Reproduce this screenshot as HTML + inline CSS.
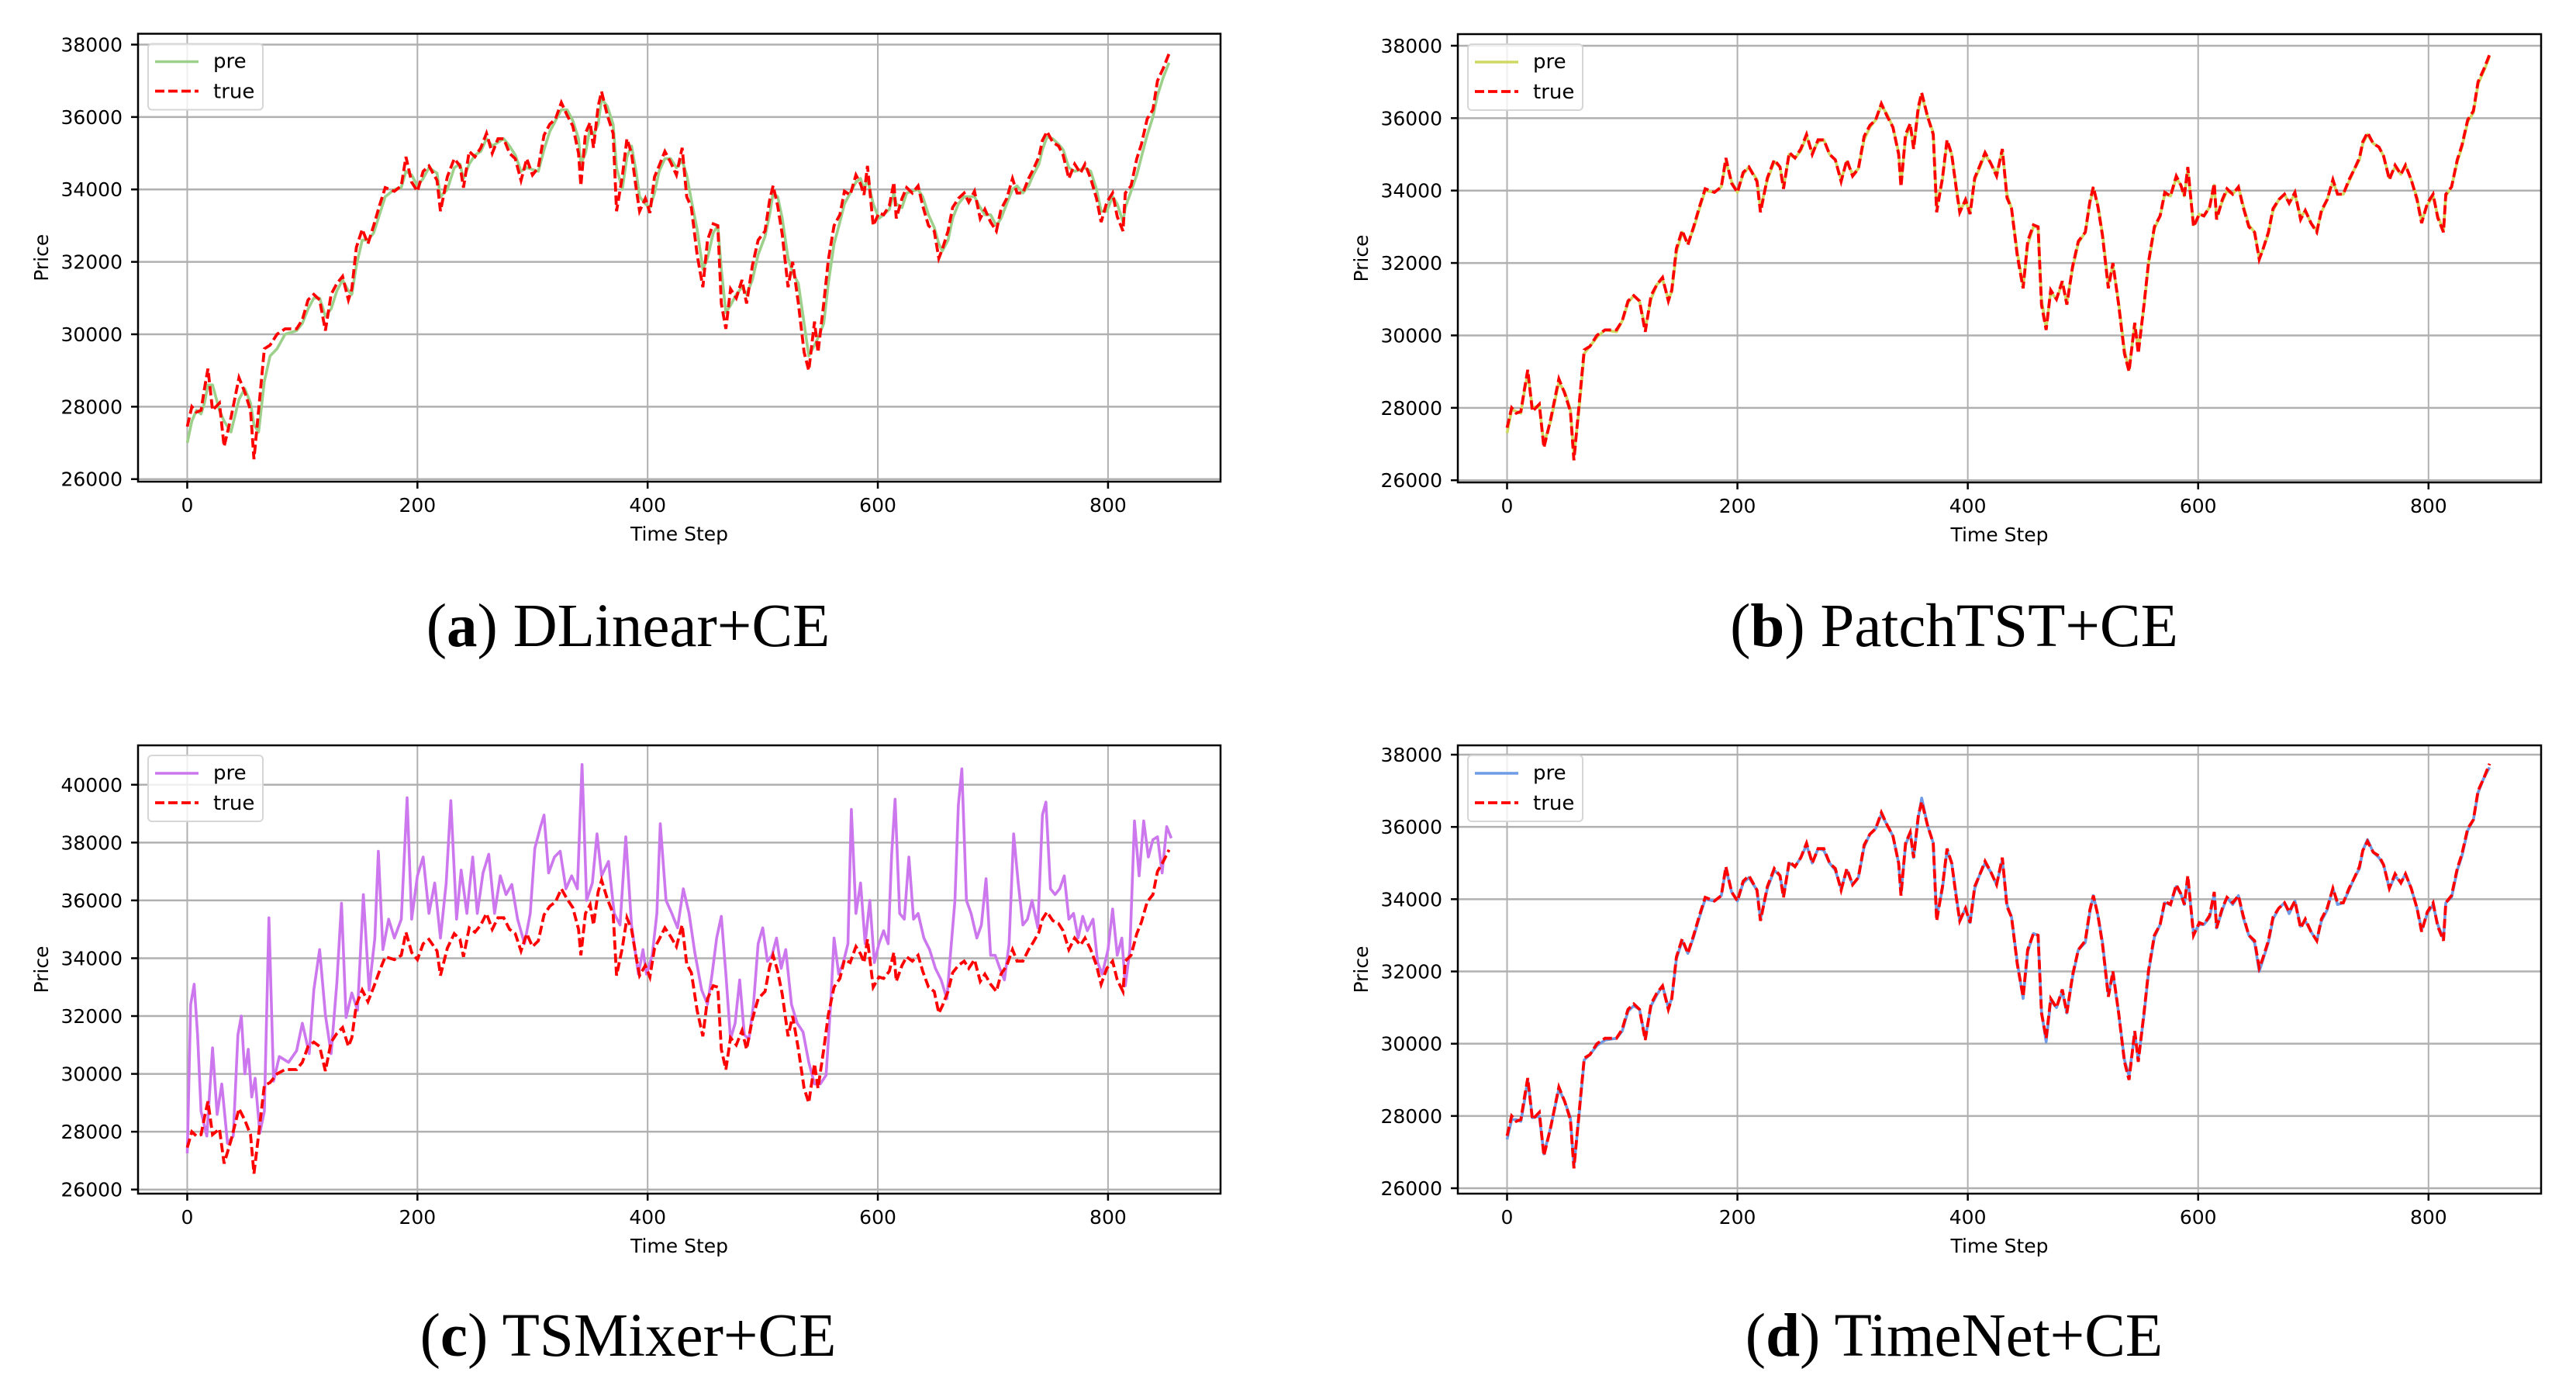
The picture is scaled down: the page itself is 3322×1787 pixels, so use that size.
<!DOCTYPE html>
<html><head><meta charset="utf-8"><style>
html,body{margin:0;padding:0;background:#fff;}
svg{display:block;}
text{font-family:"DejaVu Sans","Liberation Sans",sans-serif;}
.cap{font-family:"Liberation Serif",serif;font-size:79px;}
</style></head><body>
<svg id="fig" width="3322" height="1787" viewBox="0 0 3322 1787" xmlns="http://www.w3.org/2000/svg">
<text class="cap" x="810" y="833" text-anchor="middle">(<tspan font-weight="bold">a</tspan>) DLinear+CE</text>
<text class="cap" x="2520" y="833" text-anchor="middle">(<tspan font-weight="bold">b</tspan>) PatchTST+CE</text>
<text class="cap" x="810" y="1748" text-anchor="middle">(<tspan font-weight="bold">c</tspan>) TSMixer+CE</text>
<text class="cap" x="2520" y="1748" text-anchor="middle">(<tspan font-weight="bold">d</tspan>) TimeNet+CE</text>
</svg>
<script>
const trueT = [0,4,8,12,15,18,22,28,32,38,45,50,55,58,62,67,72,78,85,95,100,105,110,115,120,125,130,135,140,143,147,152,157,162,167,172,180,186,190,195,200,205,210,217,220,226,232,237,240,245,250,255,260,265,270,275,280,285,290,295,300,305,310,315,320,325,330,335,340,342,346,350,353,357,360,365,370,373,378,382,386,390,393,398,402,406,410,415,420,425,430,434,438,443,448,452,457,461,464,468,472,477,482,486,491,496,502,506,509,513,517,522,526,531,536,540,545,548,553,557,562,567,571,576,581,585,588,591,596,601,605,610,614,616,621,625,630,635,639,644,649,653,656,661,665,670,675,679,684,689,693,698,703,707,712,717,721,726,731,735,740,743,747,752,757,761,766,771,776,780,785,790,794,799,804,808,813,815,820,825,829,834,839,843,848,853];
const trueV = [27.45,28.0,27.85,27.9,28.5,29.05,27.9,28.1,26.9,27.7,28.8,28.4,27.9,26.55,27.9,29.6,29.7,30.0,30.15,30.15,30.4,30.95,31.1,30.95,30.1,31.1,31.4,31.6,30.95,31.25,32.4,32.9,32.5,33.0,33.55,34.05,33.95,34.1,34.9,34.2,33.95,34.5,34.65,34.25,33.4,34.35,34.85,34.65,34.05,35.05,34.9,35.15,35.55,35.0,35.4,35.4,35.0,34.85,34.25,34.85,34.4,34.6,35.5,35.8,35.95,36.4,36.05,35.75,35.0,34.1,35.55,35.85,35.15,36.3,36.7,36.05,35.55,33.4,34.35,35.4,35.0,34.05,33.4,33.75,33.35,34.35,34.65,35.05,34.75,34.4,35.15,33.8,33.5,32.2,31.3,32.6,33.05,33.0,30.85,30.15,31.25,31.0,31.5,30.85,31.9,32.6,32.85,33.7,34.1,33.55,32.75,31.3,32.0,30.85,29.5,29.0,30.35,29.5,30.85,32.05,33.0,33.3,33.95,33.85,34.4,34.15,33.85,34.65,33.0,33.35,33.3,33.55,34.2,33.2,33.75,34.05,33.9,34.1,33.55,33.0,32.85,32.1,32.35,32.85,33.5,33.75,33.9,33.65,33.95,33.2,33.45,33.1,32.85,33.45,33.75,34.3,33.9,33.9,34.3,34.55,34.9,35.35,35.6,35.3,35.2,34.95,34.3,34.7,34.45,34.7,34.3,33.75,33.1,33.65,33.9,33.25,32.85,33.9,34.1,34.85,35.25,35.95,36.2,37.0,37.35,37.75];
const preA = [27.0,27.6,27.9,27.8,28.1,28.6,28.6,27.9,27.6,27.3,28.2,28.5,28.1,27.5,27.3,28.7,29.4,29.6,30.0,30.1,30.3,30.7,31.0,31.0,30.5,30.7,31.2,31.5,31.2,31.1,31.9,32.6,32.6,32.8,33.3,33.8,34.0,34.05,34.5,34.4,34.1,34.3,34.6,34.45,33.8,34.0,34.6,34.7,34.3,34.7,34.95,35.05,35.4,35.2,35.3,35.4,35.2,34.95,34.5,34.6,34.55,34.5,35.1,35.6,35.9,36.2,36.2,35.9,35.4,34.7,35.0,35.7,35.5,35.8,36.5,36.3,35.8,34.6,34.0,34.9,35.2,34.5,33.8,33.6,33.5,33.9,34.5,34.85,34.85,34.6,34.8,34.4,33.7,32.9,31.8,32.1,32.8,33.0,31.8,30.6,30.8,31.1,31.3,31.1,31.5,32.2,32.7,33.3,33.9,33.8,33.2,32.1,31.7,31.4,30.3,29.4,29.7,29.9,30.3,31.4,32.5,33.1,33.6,33.9,34.2,34.3,34.0,34.3,33.6,33.2,33.3,33.45,33.9,33.6,33.5,33.9,33.95,34.0,33.8,33.3,32.95,32.5,32.3,32.6,33.2,33.6,33.8,33.8,33.8,33.5,33.3,33.3,33.0,33.2,33.6,34.0,34.1,33.9,34.1,34.4,34.7,35.1,35.45,35.4,35.25,35.1,34.6,34.5,34.55,34.6,34.5,34.0,33.4,33.4,33.8,33.6,33.1,33.5,33.95,34.4,34.9,35.5,36.0,36.6,37.1,37.5];
const preB = [27.3,27.95,27.9,27.85,28.45,28.95,28.0,28.05,27.0,27.65,28.7,28.45,27.95,26.7,27.8,29.5,29.7,29.95,30.15,30.1,30.4,30.9,31.1,30.95,30.2,31.0,31.4,31.55,31.0,31.2,32.3,32.85,32.55,32.95,33.5,34.0,33.95,34.1,34.8,34.25,33.95,34.45,34.65,34.3,33.5,34.3,34.8,34.65,34.1,35.0,34.9,35.1,35.5,35.05,35.35,35.4,35.0,34.85,34.3,34.8,34.45,34.6,35.4,35.75,35.95,36.35,36.1,35.75,35.05,34.2,35.45,35.8,35.2,36.2,36.65,36.05,35.6,33.55,34.3,35.35,35.0,34.1,33.45,33.7,33.4,34.3,34.6,35.0,34.75,34.45,35.1,33.9,33.5,32.3,31.35,32.5,33.0,33.0,31.0,30.2,31.2,31.0,31.45,30.9,31.85,32.55,32.85,33.65,34.05,33.6,32.8,31.4,31.95,30.9,29.6,29.05,30.3,29.6,30.8,32.0,32.95,33.3,33.9,33.85,34.35,34.15,33.85,34.6,33.05,33.35,33.3,33.55,34.15,33.25,33.7,34.0,33.9,34.1,33.6,33.05,32.85,32.15,32.35,32.8,33.45,33.75,33.9,33.65,33.9,33.25,33.45,33.1,32.9,33.4,33.75,34.25,33.9,33.9,34.25,34.55,34.85,35.3,35.55,35.3,35.2,34.95,34.35,34.65,34.45,34.7,34.3,33.8,33.15,33.6,33.85,33.3,32.9,33.85,34.1,34.8,35.2,35.9,36.15,36.95,37.3,37.7];
const preD = [27.35,27.9,27.9,27.85,28.4,29.0,27.95,28.0,26.95,27.7,28.75,28.4,27.95,26.6,27.85,29.55,29.7,29.95,30.1,30.15,30.35,30.9,31.05,30.95,30.15,31.05,31.35,31.6,31.0,31.25,32.35,32.85,32.5,32.95,33.5,34.0,33.95,34.1,34.85,34.2,33.95,34.45,34.6,34.25,33.45,34.3,34.8,34.65,34.1,35.0,34.9,35.15,35.5,35.0,35.4,35.35,35.0,34.8,34.3,34.8,34.4,34.6,35.45,35.8,35.95,36.35,36.05,35.75,35.0,34.15,35.5,35.85,35.15,36.25,36.8,36.05,35.55,33.5,34.3,35.35,35.0,34.1,33.4,33.75,33.35,34.3,34.65,35.0,34.75,34.4,35.1,33.85,33.5,32.25,31.25,32.55,33.05,33.0,30.9,30.05,31.2,31.0,31.45,30.85,31.85,32.6,32.8,33.65,34.1,33.55,32.8,31.35,31.95,30.85,29.55,29.1,30.3,29.55,30.8,32.0,32.95,33.3,33.9,33.85,34.35,34.15,33.85,34.6,33.05,33.3,33.3,33.5,34.15,33.2,33.7,34.05,33.85,34.1,33.5,33.0,32.8,32.0,32.3,32.8,33.45,33.75,33.9,33.6,33.95,33.25,33.4,33.1,32.85,33.4,33.7,34.3,33.85,33.9,34.25,34.55,34.85,35.35,35.65,35.3,35.15,34.95,34.3,34.65,34.45,34.7,34.3,33.75,33.15,33.6,33.85,33.3,32.9,33.9,34.05,34.8,35.2,35.9,36.2,36.95,37.35,37.65];
const preCT = [0,3,6,9,12,17,22,26,30,35,40,44,47,50,53,56,59,63,67,71,75,80,88,95,100,106,110,115,120,125,130,134,138,143,148,153,158,163,166,170,175,180,186,191,195,200,205,210,215,220,225,229,234,238,243,248,252,257,262,267,272,277,282,287,293,298,302,307,310,314,319,324,329,334,339,343,347,352,356,360,366,371,376,381,386,392,396,399,404,408,411,416,421,426,431,436,441,447,452,456,460,464,468,472,476,480,484,488,492,496,500,504,508,512,516,520,525,530,535,540,545,550,555,559,562,566,570,574,577,581,585,589,593,597,601,605,609,612,615,619,623,627,631,635,640,645,650,655,660,663,667,670,673,677,681,686,690,694,698,702,706,710,714,718,722,726,730,734,739,743,746,750,754,758,762,766,770,774,778,782,787,791,795,800,804,808,812,815,819,823,827,831,835,839,843,847,851,855];
const preCV = [27.25,32.4,33.1,31.35,28.7,27.85,30.9,28.6,29.65,27.6,27.85,31.35,32.0,30.0,30.85,29.2,29.85,27.95,28.7,35.4,29.75,30.6,30.4,30.8,31.75,30.7,32.9,34.3,32.05,30.7,33.15,35.9,31.95,32.8,32.2,36.2,32.9,34.7,37.7,34.3,35.35,34.7,35.35,39.55,35.35,36.85,37.5,35.55,36.6,34.7,36.6,39.45,35.35,37.05,35.55,37.5,35.55,36.95,37.6,35.55,36.85,36.2,36.55,35.35,34.5,35.55,37.8,38.55,38.95,36.95,37.5,37.7,36.4,36.85,36.4,40.7,36.0,36.6,38.3,36.85,37.35,35.55,35.15,38.2,35.15,33.45,34.3,33.45,34.1,35.55,38.65,36.0,35.55,35.05,36.4,35.55,34.2,32.9,32.4,33.45,34.7,35.45,33.45,31.2,31.75,33.25,31.35,31.2,32.4,34.5,35.05,33.9,34.1,34.7,33.65,34.3,32.4,31.75,31.45,30.4,29.65,29.65,29.95,32.4,34.7,33.45,33.85,34.5,39.15,35.55,36.6,34.5,36.0,33.85,34.5,34.95,34.5,37.6,39.5,35.55,35.35,37.5,35.35,35.55,34.7,34.3,33.65,33.25,32.6,34.1,36.0,39.3,40.55,36.0,35.55,34.7,35.15,36.75,34.1,34.1,33.65,33.25,34.5,38.3,36.6,35.15,35.35,36.0,35.05,38.95,39.4,36.4,36.2,36.4,36.85,35.35,35.55,34.7,35.45,34.95,35.35,33.85,33.45,34.3,35.7,34.1,34.7,33.05,34.3,38.75,36.85,38.75,37.5,38.1,38.2,36.95,38.55,38.15];
const xTicks = [0,200,400,600,800];
const yTicksTop = [26000,28000,30000,32000,34000,36000,38000];
const yTicksC = [26000,28000,30000,32000,34000,36000,38000,40000];

const NS = 'http://www.w3.org/2000/svg';
const svg = document.getElementById('fig');
function mk(tag, attrs, parent) {
  const e = document.createElementNS(NS, tag);
  for (const k in attrs) e.setAttribute(k, attrs[k]);
  (parent || svg).appendChild(e);
  return e;
}
function drawPanel(p) {
  const g = mk('g', {});
  
  
  const xs = v => p.L + (v - p.xmin) / (p.xmax - p.xmin) * (p.R - p.L);
  const ys = v => p.B - (v - p.ymin) / (p.ymax - p.ymin) * (p.B - p.T);
  xTicks.forEach(t => {
    const l = mk('line', {x1: xs(t), x2: xs(t), y1: p.T, y2: p.B, stroke: '#b0b0b0', 'stroke-width': 2}, g);
    
    
  });
  p.yTicks.forEach(t => {
    const l = mk('line', {x1: p.L, x2: p.R, y1: ys(t), y2: ys(t), stroke: '#b0b0b0', 'stroke-width': 2.5}, g);
    
    
  });
  const clipId = 'clip-' + p.name;
  const cp = mk('clipPath', {id: clipId}, g);
  mk('rect', {x: p.L, y: p.T, width: p.R - p.L, height: p.B - p.T}, cp);
  let d = '';
  const n1 = Math.min(p.preT.length, p.preV.length);
  for (let i = 0; i < n1; i++) d += (i ? 'L' : 'M') + xs(p.preT[i]).toFixed(1) + ',' + ys(p.preV[i] * 1000).toFixed(1);
  const pl = mk('path', {d: d, fill: 'none', stroke: p.color, 'stroke-width': 3.6, 'stroke-linejoin': 'round', 'clip-path': 'url(#' + clipId + ')'}, g);
  
  
  d = '';
  const n2 = Math.min(trueT.length, trueV.length);
  for (let i = 0; i < n2; i++) d += (i ? 'L' : 'M') + xs(trueT[i]).toFixed(1) + ',' + ys(trueV[i] * 1000).toFixed(1);
  const tl = mk('path', {d: d, fill: 'none', stroke: '#ff0000', 'stroke-width': 3.8, 'stroke-dasharray': '12,5', 'clip-path': 'url(#' + clipId + ')'}, g);
  
  
  const fr = mk('rect', {x: p.L, y: p.T, width: p.R - p.L, height: p.B - p.T, fill: 'none', stroke: '#000', 'stroke-width': 2.5}, g);
  
  
  xTicks.forEach(t => {
    mk('line', {x1: xs(t), x2: xs(t), y1: p.B, y2: p.B + 9, stroke: '#000', 'stroke-width': 2.5}, g);
    const tx = mk('text', {x: xs(t), y: p.B + 39, 'font-size': 25, 'text-anchor': 'middle'}, g);
    tx.textContent = t;
    
    
  });
  p.yTicks.forEach(t => {
    mk('line', {x1: p.L - 9, x2: p.L, y1: ys(t), y2: ys(t), stroke: '#000', 'stroke-width': 2.5}, g);
    const tx = mk('text', {x: p.L - 20, y: ys(t) + 9, 'font-size': 25, 'text-anchor': 'end'}, g);
    tx.textContent = t;
    
    
  });
  const xl = mk('text', {x: (p.L + p.R) / 2, y: p.B + 76, 'font-size': 25, 'text-anchor': 'middle'}, g);
  xl.textContent = 'Time Step';
  
  
  const cy = (p.T + p.B) / 2;
  const yl = mk('text', {x: p.L - 116, y: cy, 'font-size': 25, 'text-anchor': 'middle', transform: 'rotate(-90 ' + (p.L - 116) + ' ' + cy + ')'}, g);
  yl.textContent = 'Price';
  
  
  const lg = mk('g', {}, g);
  
  
  mk('rect', {x: p.L + 13, y: p.T + 13, width: 148, height: 85, rx: 5, fill: 'rgba(255,255,255,0.8)', stroke: '#d6d6d6', 'stroke-width': 2}, lg);
  mk('line', {x1: p.L + 22, x2: p.L + 78, y1: p.T + 36, y2: p.T + 36, stroke: p.color, 'stroke-width': 3.6}, lg);
  mk('line', {x1: p.L + 22, x2: p.L + 78, y1: p.T + 74, y2: p.T + 74, stroke: '#ff0000', 'stroke-width': 3.8, 'stroke-dasharray': '12,5'}, lg);
  const t1 = mk('text', {x: p.L + 97, y: p.T + 44, 'font-size': 26}, lg);
  t1.textContent = 'pre';
  
  
  const t2 = mk('text', {x: p.L + 97, y: p.T + 83, 'font-size': 26}, lg);
  t2.textContent = 'true';
  
  
}
drawPanel({name: 'panel-a-dlinear', L: 178, R: 1574, T: 43.5, B: 621, xmin: -42.75, xmax: 897.75, ymin: 25930, ymax: 38300, yTicks: yTicksTop, color: '#9dd08a', preT: trueT, preV: preA});
drawPanel({name: 'panel-b-patchtst', L: 1880, R: 3277, T: 44, B: 622, xmin: -42.75, xmax: 897.75, ymin: 25940, ymax: 38320, yTicks: yTicksTop, color: '#cfd860', preT: trueT, preV: preB});
drawPanel({name: 'panel-c-tsmixer', L: 178, R: 1574, T: 961, B: 1539, xmin: -42.75, xmax: 897.75, ymin: 25858, ymax: 41362, yTicks: yTicksC, color: '#cc77ee', preT: preCT, preV: preCV});
drawPanel({name: 'panel-d-timenet', L: 1880, R: 3277, T: 961, B: 1539, xmin: -42.75, xmax: 897.75, ymin: 25850, ymax: 38258, yTicks: yTicksTop, color: '#6f9be6', preT: trueT, preV: preD});
</script>
</body></html>
